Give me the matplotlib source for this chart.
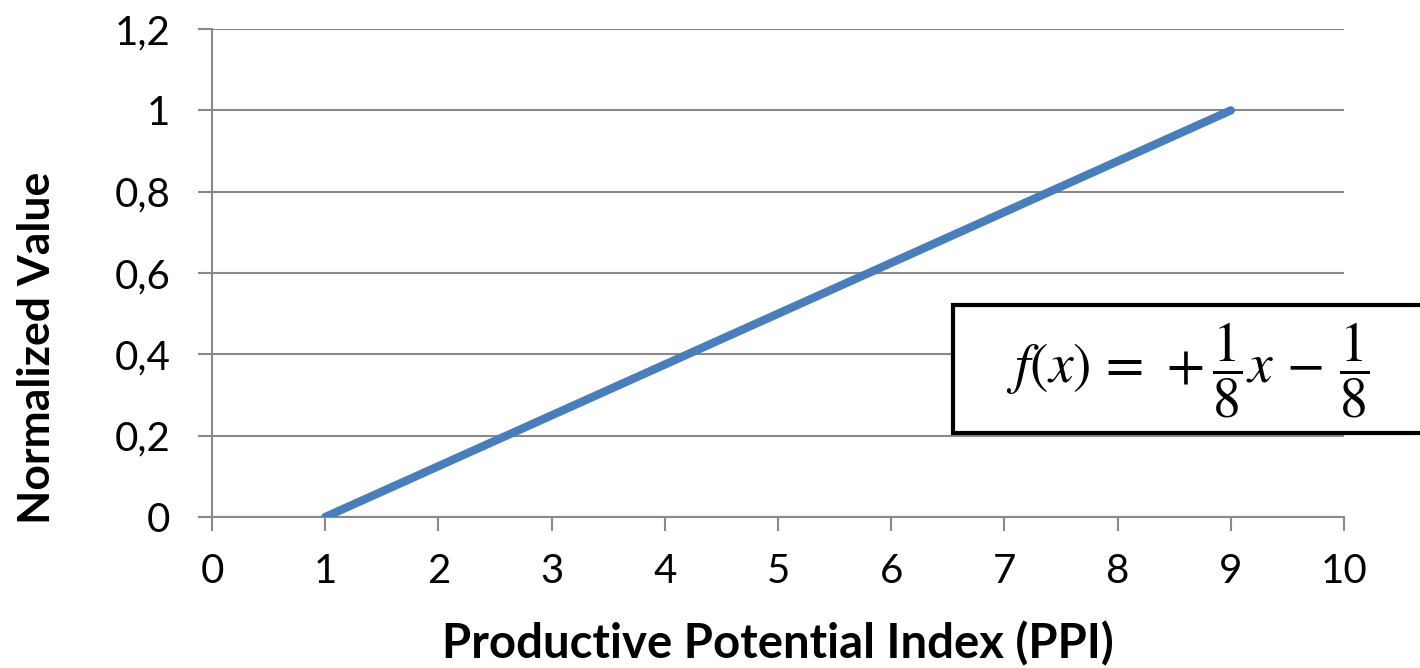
"""Normalized value as a linear function of the productive potential index."""
import matplotlib

matplotlib.use("Agg")
import matplotlib.pyplot as plt
from matplotlib.patches import Rectangle

ppi = [1, 9]
normalized = [0, 1]

x_ticks = [0, 1, 2, 3, 4, 5, 6, 7, 8, 9, 10]
y_ticks = [0, 0.2, 0.4, 0.6, 0.8, 1.0, 1.2]
y_tick_labels = ["0", "0,2", "0,4", "0,6", "0,8", "1", "1,2"]

formula = r"$f(x)\,=\,+\dfrac{1}{8}x\,-\,\dfrac{1}{8}$"

GRID = "#898989"
LINE = "#4a7ebb"

plt.rcParams["font.family"] = ["Lato", "DejaVu Sans"]
plt.rcParams["mathtext.fontset"] = "stix"

fig = plt.figure(figsize=(14.2, 6.68), dpi=100)
ax = fig.add_axes([0.1493, 0.226, 0.7972, 0.7305])

ax.plot(ppi, normalized, color=LINE, lw=6, solid_capstyle="round", zorder=3)

ax.set_xlim(0, 10)
ax.set_ylim(0, 1.2)
ax.set_xticks(x_ticks)
ax.set_yticks(y_ticks)
ax.set_yticklabels(y_tick_labels)

ax.grid(True, axis="y", color=GRID, lw=1.5)
ax.set_axisbelow(True)
for side in ("top", "right"):
    ax.spines[side].set_visible(False)
for side in ("left", "bottom"):
    ax.spines[side].set_color(GRID)
    ax.spines[side].set_linewidth(1.5)

ax.tick_params(axis="both", colors=GRID, width=1.5, length=10,
               labelcolor="black", labelsize=29)
ax.tick_params(axis="y", pad=20)
ax.tick_params(axis="x", pad=16)

ax.set_xlabel("Productive Potential Index (PPI)", fontsize=34,
              fontweight="bold", labelpad=22)
ax.set_ylabel("Normalized Value", fontsize=32, fontweight="bold")
ax.yaxis.set_label_coords(-0.137, 0.346)

# formula box, running off the right edge of the figure
box = Rectangle((0.671, 0.352), 0.36, 0.191, transform=fig.transFigure,
                facecolor="white", edgecolor="black", lw=3, zorder=5,
                clip_on=False)
fig.add_artist(box)
fig.text(0.8365, 0.446, formula, fontsize=40, ha="center", va="center",
         zorder=6)

fig.savefig("out.png", dpi=100)
